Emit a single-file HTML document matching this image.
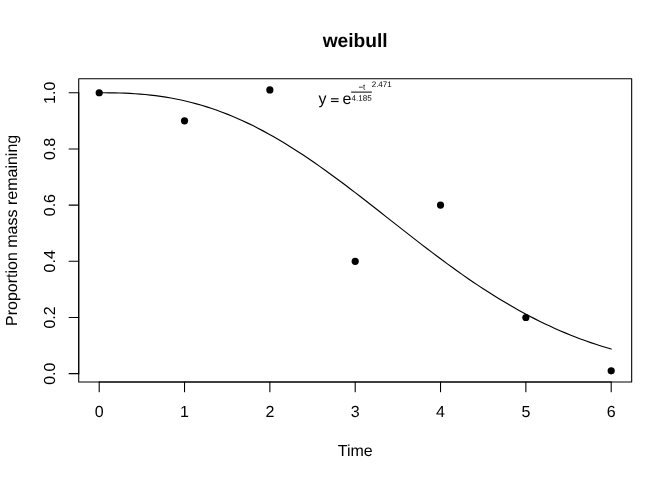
<!DOCTYPE html>
<html><head><meta charset="utf-8"><title>weibull</title>
<style>
html,body{margin:0;padding:0;background:#fff;}
svg{display:block;will-change:transform;}
text{font-family:"Liberation Sans",sans-serif;font-size:16px;fill:#000;text-rendering:geometricPrecision;}
.ln line,.ln polyline,.ln rect{stroke:#000;stroke-width:1.08;fill:none;stroke-linecap:round;stroke-linejoin:round;}
</style></head><body>
<svg width="672" height="480" viewBox="0 0 672 480">
<rect x="0" y="0" width="672" height="480" fill="#fff"/>
<g class="ln">
<rect x="78.72" y="78.72" width="552.96" height="303.36"/>
<line x1="99.20" y1="382.08" x2="611.20" y2="382.08"/>
<line x1="99.20" y1="382.08" x2="99.20" y2="391.68"/>
<line x1="184.53" y1="382.08" x2="184.53" y2="391.68"/>
<line x1="269.87" y1="382.08" x2="269.87" y2="391.68"/>
<line x1="355.20" y1="382.08" x2="355.20" y2="391.68"/>
<line x1="440.53" y1="382.08" x2="440.53" y2="391.68"/>
<line x1="525.87" y1="382.08" x2="525.87" y2="391.68"/>
<line x1="611.20" y1="382.08" x2="611.20" y2="391.68"/>
<line x1="78.72" y1="373.65" x2="78.72" y2="92.76"/>
<line x1="78.72" y1="373.65" x2="69.12" y2="373.65"/>
<line x1="78.72" y1="317.48" x2="69.12" y2="317.48"/>
<line x1="78.72" y1="261.30" x2="69.12" y2="261.30"/>
<line x1="78.72" y1="205.12" x2="69.12" y2="205.12"/>
<line x1="78.72" y1="148.94" x2="69.12" y2="148.94"/>
<line x1="78.72" y1="92.76" x2="69.12" y2="92.76"/>
<polyline points="99.20,92.76 104.32,92.77 109.44,92.81 114.56,92.88 119.68,93.00 124.80,93.18 129.92,93.42 135.04,93.72 140.16,94.09 145.28,94.54 150.40,95.07 155.52,95.68 160.64,96.37 165.76,97.15 170.88,98.03 176.00,98.99 181.12,100.06 186.24,101.22 191.36,102.48 196.48,103.84 201.60,105.30 206.72,106.86 211.84,108.53 216.96,110.30 222.08,112.18 227.20,114.16 232.32,116.25 237.44,118.43 242.56,120.72 247.68,123.11 252.80,125.60 257.92,128.19 263.04,130.88 268.16,133.66 273.28,136.53 278.40,139.50 283.52,142.55 288.64,145.68 293.76,148.90 298.88,152.20 304.00,155.57 309.12,159.02 314.24,162.53 319.36,166.11 324.48,169.75 329.60,173.45 334.72,177.19 339.84,180.99 344.96,184.83 350.08,188.71 355.20,192.62 360.32,196.57 365.44,200.54 370.56,204.53 375.68,208.54 380.80,212.56 385.92,216.58 391.04,220.61 396.16,224.64 401.28,228.66 406.40,232.67 411.52,236.66 416.64,240.64 421.76,244.59 426.88,248.51 432.00,252.40 437.12,256.25 442.24,260.07 447.36,263.84 452.48,267.56 457.60,271.23 462.72,274.85 467.84,278.42 472.96,281.92 478.08,285.37 483.20,288.75 488.32,292.06 493.44,295.30 498.56,298.48 503.68,301.58 508.80,304.61 513.92,307.57 519.04,310.45 524.16,313.25 529.28,315.97 534.40,318.62 539.52,321.19 544.64,323.68 549.76,326.09 554.88,328.42 560.00,330.68 565.12,332.85 570.24,334.95 575.36,336.97 580.48,338.92 585.60,340.79 590.72,342.59 595.84,344.31 600.96,345.97 606.08,347.55 611.20,349.06" style="stroke-width:1.15"/>
</g>
<circle cx="99.20" cy="92.76" r="3.6" fill="#000"/>
<circle cx="184.53" cy="120.85" r="3.6" fill="#000"/>
<circle cx="269.87" cy="89.96" r="3.6" fill="#000"/>
<circle cx="355.20" cy="261.30" r="3.6" fill="#000"/>
<circle cx="440.53" cy="205.12" r="3.6" fill="#000"/>
<circle cx="525.87" cy="317.48" r="3.6" fill="#000"/>
<circle cx="611.20" cy="370.84" r="3.6" fill="#000"/>
<text x="99.20" y="417.2" text-anchor="middle">0</text>
<text x="184.53" y="417.2" text-anchor="middle">1</text>
<text x="269.87" y="417.2" text-anchor="middle">2</text>
<text x="355.20" y="417.2" text-anchor="middle">3</text>
<text x="440.53" y="417.2" text-anchor="middle">4</text>
<text x="525.87" y="417.2" text-anchor="middle">5</text>
<text x="611.20" y="417.2" text-anchor="middle">6</text>
<text transform="translate(55.30,373.65) rotate(-90)" text-anchor="middle">0.0</text>
<text transform="translate(55.30,317.48) rotate(-90)" text-anchor="middle">0.2</text>
<text transform="translate(55.30,261.30) rotate(-90)" text-anchor="middle">0.4</text>
<text transform="translate(55.30,205.12) rotate(-90)" text-anchor="middle">0.6</text>
<text transform="translate(55.30,148.94) rotate(-90)" text-anchor="middle">0.8</text>
<text transform="translate(55.30,92.76) rotate(-90)" text-anchor="middle">1.0</text>
<text x="355.2" y="46.8" text-anchor="middle" style="font-size:19.2px;font-weight:bold;">weibull</text>
<text x="355.2" y="455.8" text-anchor="middle">Time</text>
<text transform="translate(17.2,230.4) rotate(-90)" text-anchor="middle">Proportion mass remaining</text>
<!-- equation -->
<text x="318.4" y="104.1">y</text>
<line x1="331.0" y1="98.8" x2="338.6" y2="98.8" stroke="#000" stroke-width="1.15"/>
<line x1="331.0" y1="101.5" x2="338.6" y2="101.5" stroke="#000" stroke-width="1.15"/>
<text x="342.5" y="104.1">e</text>
<text transform="translate(361.9,89.8) scale(0.1) rotate(0.3)" text-anchor="middle" style="font-size:80px;">−t</text>
<line x1="351.2" y1="92.1" x2="371.9" y2="92.1" stroke="#000" stroke-width="1"/>
<text transform="translate(361.6,100.7) scale(0.1) rotate(0.3)" text-anchor="middle" style="font-size:80px;">4.185</text>
<text transform="translate(371.7,86.9) scale(0.1) rotate(0.3)" style="font-size:80px;">2.471</text>
</svg>
</body></html>
